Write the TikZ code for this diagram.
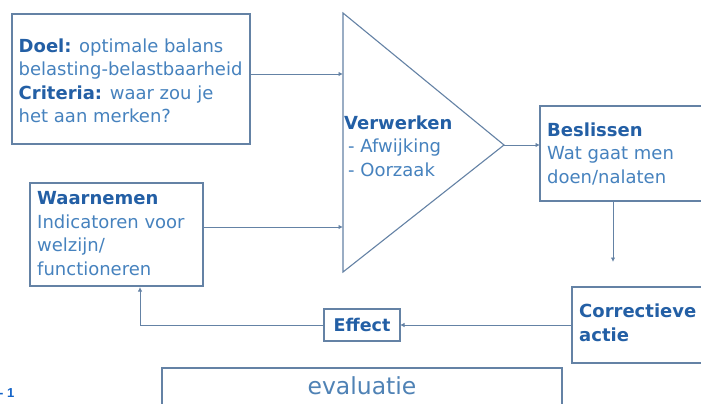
\documentclass[tikz,border=0pt]{standalone}
\usepackage{fontspec}
\setmainfont{DejaVu Sans}
\newfontfamily\figfont{Liberation Sans}
\usetikzlibrary{arrows.meta}
\definecolor{headcol}{RGB}{35,95,165}
\definecolor{bodycol}{RGB}{70,130,190}
\definecolor{linecol}{RGB}{100,130,165}
\definecolor{figblue}{RGB}{20,100,200}
\begin{document}
\begin{tikzpicture}[x=1pt,y=-1pt,
  box/.style={draw=linecol, line width=1.1pt, rectangle, inner sep=0pt, outer sep=0pt},
  txt/.style={inner sep=0pt, anchor=west, align=left, text=bodycol, font=\fontsize{18}{23.5}\selectfont},
  conn/.style={draw=linecol, line width=1pt, -{Latex[length=4.5pt,width=4.5pt]}},
  link/.style={draw=linecol, line width=1pt}]
\useasboundingbox (0,0) rectangle (701,404);
\clip (0,0) rectangle (701,404);
\fill[white] (0,0) rectangle (701,404);

% boxes
\node[box, minimum width=238pt, minimum height=130pt] (doel) at (131,79) {};
\node[box, minimum width=173pt, minimum height=103pt] (waar) at (116.5,234.5) {};
\node[box, minimum width=170pt, minimum height=95pt] (besl) at (625,153.5) {};
\node[box, minimum width=138pt, minimum height=76pt] (corr) at (641,325) {};
\node[box, minimum width=76pt, minimum height=32pt, font=\fontsize{17.5}{23.5}\selectfont\bfseries, text=headcol] (effect) at (362,325) {Effect};
\node[box, minimum width=400pt, minimum height=52pt] (eval) at (362,394) {};

% triangle
\coordinate (tri1) at (343,13);
\coordinate (tri2) at (343,272);
\coordinate (apex) at (504,145);
\draw[draw=linecol, line width=1.1pt] (tri1) -- (apex) -- (tri2) -- cycle;

% texts
\node[txt] (doelt) at ([xshift=6.5pt,yshift=-2pt]doel.west)
  {{\bfseries\color{headcol}Doel:} optimale balans\\
   belasting-belastbaarheid\\
   {\bfseries\color{headcol}Criteria:} waar zou je\\
   het aan merken?};
\node[txt] (waart) at ([xshift=7pt,yshift=1pt]waar.west)
  {{\bfseries\color{headcol}Waarnemen}\\
   Indicatoren voor\\
   welzijn/\\
   functioneren};
\node[txt] (beslt) at ([xshift=7pt]besl.west)
  {{\bfseries\color{headcol}Beslissen}\\
   Wat gaat men\\
   doen/nalaten};
\node[txt, text=headcol, font=\fontsize{18}{23.5}\selectfont\bfseries] (corrt) at ([xshift=7pt,yshift=2pt]corr.west)
  {Correctieve\\actie};
\node[txt] (verw) at (344,146)
  {{\bfseries\color{headcol}Verwerken}\\
   \hspace{4pt}- Afwijking\\
   \hspace{4pt}- Oorzaak};
\node[inner sep=0pt, text=bodycol!85!gray, font=\fontsize{23.5}{26}\selectfont] (evalt) at (362,386) {evaluatie};
\node[inner sep=0pt, anchor=base west, text=figblue, font=\figfont\fontsize{13}{15}\selectfont\bfseries] (fig) at (-1,397) {- 1};

% connectors
\coordinate (inA) at (343,74);
\coordinate (inB) at (343,227);
\coordinate (downEnd) at (613,262);
\coordinate (up) at (140,287);
\draw[conn] (doel.east |- inA) -- (inA);
\draw[conn] (waar.east |- inB) -- (inB);
\draw[conn] (apex) -- (besl.west |- apex);
\draw[conn] (downEnd |- besl.south) -- (downEnd);
\draw[conn] (corr.west) -- (effect.east);
\draw[conn] (effect.west) -| (up);
\end{tikzpicture}
\end{document}
